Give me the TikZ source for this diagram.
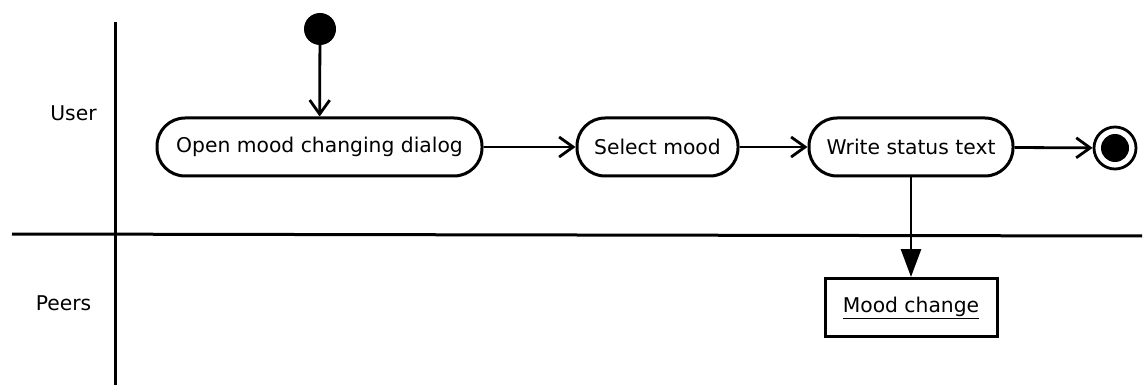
\documentclass[tikz,border=0pt]{standalone}
\usepackage{fontspec}
\setmainfont{DejaVu Sans}
\usetikzlibrary{arrows.meta}
\begin{document}
\begin{tikzpicture}[x=1pt,y=-1pt,
  lane/.style={line width=3pt},
  action/.style={draw,line width=3pt,rounded corners=28pt,minimum height=58pt,
    inner sep=0pt,font=\fontsize{20.3}{23}\selectfont},
  objbox/.style={draw,line width=3pt,minimum height=58pt,inner sep=0pt,
    font=\fontsize{20.3}{23}\selectfont},
  lanelabel/.style={font=\fontsize{20.3}{23}\selectfont},
  flow/.style={line width=2.8pt,-{Straight Barb[length=14pt,width=20pt,line width=2.8pt]}},
  objflow/.style={line width=2.8pt,-{Triangle[length=28pt,width=20pt]}}]
\useasboundingbox (0,0) rectangle (1144,385);
% swimlane separators
\draw[lane] (115.5,22) -- (115.5,385);
\draw[lane] (12,234) -- (1142,236);
\node[lanelabel] (user) at (73.5,113) {User};
\node[lanelabel] (peers) at (63.5,303) {Peers};
% initial and final states
\node[circle,fill=black,minimum size=32pt,inner sep=0pt] (start) at (320,29) {};
\node[circle,draw,line width=2.8pt,minimum size=42pt,inner sep=0pt] (final) at (1115,148) {};
\node[circle,fill=black,minimum size=28pt,inner sep=0pt] (finalin) at (1115,148) {};
% actions
\node[action,minimum width=325pt] (open) at (319.5,147) {Open mood changing dialog};
\node[action,minimum width=161pt] (select) at (657.5,147) {Select mood};
\node[action,minimum width=204pt] (write) at (911,147) {Write status text};
\node[objbox,minimum width=172pt] (mood) at (911,307.5) {\underline{Mood change}};
% control flow
\draw[flow] (start) -- (open);
\draw[flow] (open) -- (select);
\draw[flow] (select) -- (write);
\draw[flow] (write) -- (final);
% object flow
\draw[objflow] (write) -- (mood);
\end{tikzpicture}
\end{document}
